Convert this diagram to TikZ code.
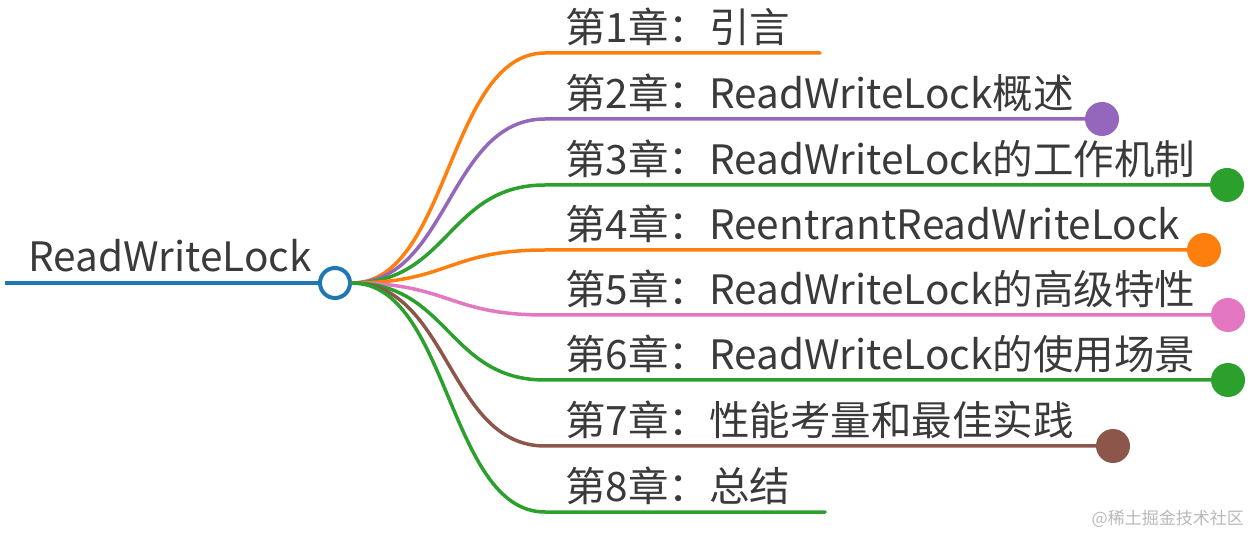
\documentclass[tikz,border=0pt]{standalone}
\usepackage{fontspec}
\setmainfont{Noto Sans CJK SC}
\usepackage{xcolor}
\usepackage{tikz}
\usetikzlibrary{positioning,calc}
\definecolor{rootblue}{HTML}{1F77B4}
\definecolor{mmorange}{HTML}{FF7F0E}
\definecolor{mmpurple}{HTML}{9467BD}
\definecolor{mmgreen}{HTML}{2CA02C}
\definecolor{mmpink}{HTML}{E377C2}
\definecolor{mmbrown}{HTML}{8C564B}
\definecolor{textgray}{HTML}{3A3A3A}

\tikzset{
  label/.style={anchor=base west, inner sep=0pt, text=textgray, font=\fontsize{40.5}{40.5}\selectfont},
  branch/.style={line width=3.5pt, line cap=round},
  enddot/.style={circle, inner sep=0pt, minimum size=34pt},
}

\begin{document}
\begin{tikzpicture}[x=1pt, y=-1pt]
\useasboundingbox (0,0) rectangle (1251,534);

% Root
\coordinate (rootstart) at (5,283);
\node[circle, draw=rootblue, line width=4pt, fill=white, minimum size=30pt, inner sep=0pt] (root) at (335,283) {};
\draw[rootblue, line width=4.5pt] (rootstart) -- (root.west);
\node[label] (rootlabel) at (28,272) {ReadWriteLock};

% Curve ends
\coordinate (c1) at (545,53);
\coordinate (c2) at (545,119);
\coordinate (c3) at (545,185);
\coordinate (c4) at (545,250);
\coordinate (c5) at (545,315);
\coordinate (c6) at (545,380);
\coordinate (c7) at (545,446);
\coordinate (c8) at (545,512);

% Line ends (leaves) and dots
\coordinate (e1) at (820,53);
\node[enddot, fill=mmpurple] (d2) at (1102,119) {};
\node[enddot, fill=mmgreen] (d3) at (1227,185) {};
\node[enddot, fill=mmorange] (d4) at (1204,250) {};
\node[enddot, fill=mmpink] (d5) at (1228,315) {};
\node[enddot, fill=mmgreen] (d6) at (1228,380) {};
\node[enddot, fill=mmbrown] (d7) at (1113,446) {};
\coordinate (e8) at (825,512);

% Branches
\draw[branch, mmorange] (root.east) .. controls +(97,0) and +(-97,0) .. (c1) -- (e1);
\draw[branch, mmpurple] (root.east) .. controls +(97,0) and +(-97,0) .. (c2) -- (d2);
\draw[branch, mmgreen]  (root.east) .. controls +(97,0) and +(-97,0) .. (c3) -- (d3);
\draw[branch, mmorange] (root.east) .. controls +(97,0) and +(-97,0) .. (c4) -- (d4);
\draw[branch, mmpink]   (root.east) .. controls +(97,0) and +(-97,0) .. (c5) -- (d5);
\draw[branch, mmgreen]  (root.east) .. controls +(97,0) and +(-97,0) .. (c6) -- (d6);
\draw[branch, mmbrown]  (root.east) .. controls +(97,0) and +(-97,0) .. (c7) -- (d7);
\draw[branch, mmgreen]  (root.east) .. controls +(97,0) and +(-97,0) .. (c8) -- (e8);

% Chapter labels
\node[label] (t1) at (565,43)  {第1章：引言};
\node[label] (t2) at (565,109) {第2章：ReadWriteLock概述};
\node[label] (t3) at (565,175) {第3章：ReadWriteLock的工作机制};
\node[label] (t4) at (565,240) {第4章：ReentrantReadWriteLock};
\node[label] (t5) at (565,305) {第5章：ReadWriteLock的高级特性};
\node[label] (t6) at (565,370) {第6章：ReadWriteLock的使用场景};
\node[label] (t7) at (565,436) {第7章：性能考量和最佳实践};
\node[label] (t8) at (565,502) {第8章：总结};

% Watermark
\node[anchor=base east, inner sep=0pt, text=gray!55, font=\fontsize{17}{17}\selectfont] (mark) at (1244,525) {@稀土掘金技术社区};

\end{tikzpicture}
\end{document}
